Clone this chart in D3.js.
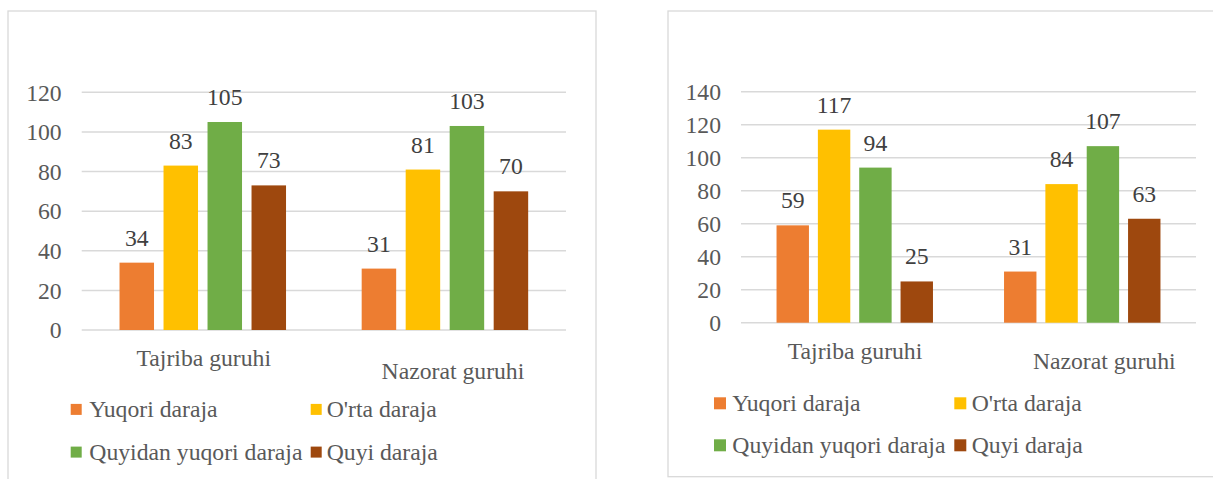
<!DOCTYPE html>
<html>
<head>
<meta charset="utf-8">
<script src="https://cdn.jsdelivr.net/npm/d3@7/dist/d3.min.js"></script>
</head>
<body style="margin:0">
<svg id="chart" width="1213" height="479"></svg>
<script>
// ---- Data ----
const categories = ["Tajriba guruhi", "Nazorat guruhi"];
const seriesNames = ["Yuqori daraja", "O'rta daraja", "Quyidan yuqori daraja", "Quyi daraja"];
const seriesColors = ["#ED7D31", "#FFC000", "#70AD47", "#9E480E"];

// Left chart values (per category, per series)
const leftTajriba = [34, 83, 105, 73];
const leftNazorat = [31, 81, 103, 70];
const leftTicks = [0, 20, 40, 60, 80, 100, 120];

// Right chart values
const rightTajriba = [59, 117, 94, 25];
const rightNazorat = [31, 84, 107, 63];
const rightTicks = [0, 20, 40, 60, 80, 100, 120, 140];

// ---- Layout (positions / styles only) ----
const FONT = 23.7;
const FAMILY = '"Liberation Serif"';
const svg = d3.select("#chart").attr("font-family", "Liberation Serif").style("font-family", FAMILY);
svg.append("rect").attr("width", 1213).attr("height", 479).attr("fill", "#fff");

const layouts = [
  {
    box: {x: 8, y: 11, w: 588, h: 490},
    plot: {x0: 81.7, x1: 566, yTop: 92.3, yBottom: 330},
    catLabel: [{dx: 1, y: 366}, {dx: 8, y: 379.3}],
    legend: {mx: [70.7, 310.7], tx: [89.3, 326.7], base: [417.3, 460], size: 11}
  },
  {
    box: {x: 668, y: 11, w: 560, h: 465.7},
    plot: {x0: 741, x1: 1196, yTop: 91.7, yBottom: 322.7},
    catLabel: [{dx: 0.3, y: 359.3}, {dx: 22, y: 369}],
    legend: {mx: [714, 954.3], tx: [732.3, 971.7], base: [410.7, 452.7], size: 12}
  }
];

function styleText(sel, color) {
  return sel.attr("font-family", "Liberation Serif")
    .style("font-family", FAMILY)
    .attr("font-size", FONT)
    .attr("fill", color);
}

function drawChart(values, ticks, L) {
  const g = svg.append("g");
  // chart border
  g.append("rect")
    .attr("x", L.box.x).attr("y", L.box.y)
    .attr("width", L.box.w).attr("height", L.box.h)
    .attr("fill", "#fff").attr("stroke", "#d9d9d9").attr("stroke-width", 1.3);

  const yMax = d3.max(ticks);
  const y = d3.scaleLinear().domain([0, yMax]).range([L.plot.yBottom, L.plot.yTop]);
  const x0 = d3.scaleBand().domain(categories).range([L.plot.x0, L.plot.x1]).padding(0);
  const bw = x0.bandwidth();
  const groupW = 0.6876 * bw;
  const x1 = d3.scaleBand().domain(seriesNames).range([0, groupW]).paddingInner(0.216).paddingOuter(0);
  const groupOff = (bw - groupW) / 2;

  // gridlines
  g.append("g").selectAll("line").data(ticks).join("line")
    .attr("x1", L.plot.x0).attr("x2", L.plot.x1)
    .attr("y1", d => y(d)).attr("y2", d => y(d))
    .attr("stroke", "#d9d9d9").attr("stroke-width", 1.5);

  // y tick labels
  styleText(g.append("g").selectAll("text").data(ticks).join("text")
    .attr("x", L.plot.x0 - 20).attr("y", d => y(d) + 8.3)
    .attr("text-anchor", "end"), "#595959")
    .text(d => d);

  // bars
  categories.forEach((cat, ci) => {
    const vals = values[ci];
    const cg = g.append("g").attr("transform", `translate(${x0(cat) + groupOff},0)`);
    cg.selectAll("rect").data(vals).join("rect")
      .attr("x", (d, i) => x1(seriesNames[i]))
      .attr("y", d => y(d))
      .attr("width", x1.bandwidth())
      .attr("height", d => y(0) - y(d))
      .attr("fill", (d, i) => seriesColors[i]);
    styleText(cg.selectAll("text").data(vals).join("text")
      .attr("x", (d, i) => x1(seriesNames[i]) + x1.bandwidth() / 2)
      .attr("y", d => y(d) - 17)
      .attr("text-anchor", "middle"), "#404040")
      .text(d => d);
  });

  // category labels (axis)
  const axis = d3.axisBottom(x0).tickSize(0).tickPadding(0);
  const ag = g.append("g").attr("transform", `translate(0,${L.plot.yBottom})`).call(axis);
  ag.attr("font-family", "Liberation Serif").attr("font-size", FONT);
  ag.select(".domain").remove();
  styleText(ag.selectAll(".tick text"), "#595959")
    .attr("dy", null)
    .attr("x", (d, i) => L.catLabel[i].dx)
    .attr("y", (d, i) => L.catLabel[i].y - L.plot.yBottom);

  // legend (2 x 2)
  const lg = g.append("g");
  seriesNames.forEach((name, i) => {
    const col = i % 2, row = Math.floor(i / 2);
    const base = L.legend.base[row];
    lg.append("rect")
      .attr("x", L.legend.mx[col]).attr("y", base - 13.4)
      .attr("width", L.legend.size).attr("height", L.legend.size)
      .attr("fill", seriesColors[i]);
    styleText(lg.append("text")
      .attr("x", L.legend.tx[col]).attr("y", base), "#595959")
      .text(name);
  });
}

drawChart([leftTajriba, leftNazorat], leftTicks, layouts[0]);
drawChart([rightTajriba, rightNazorat], rightTicks, layouts[1]);
</script>
</body>
</html>
